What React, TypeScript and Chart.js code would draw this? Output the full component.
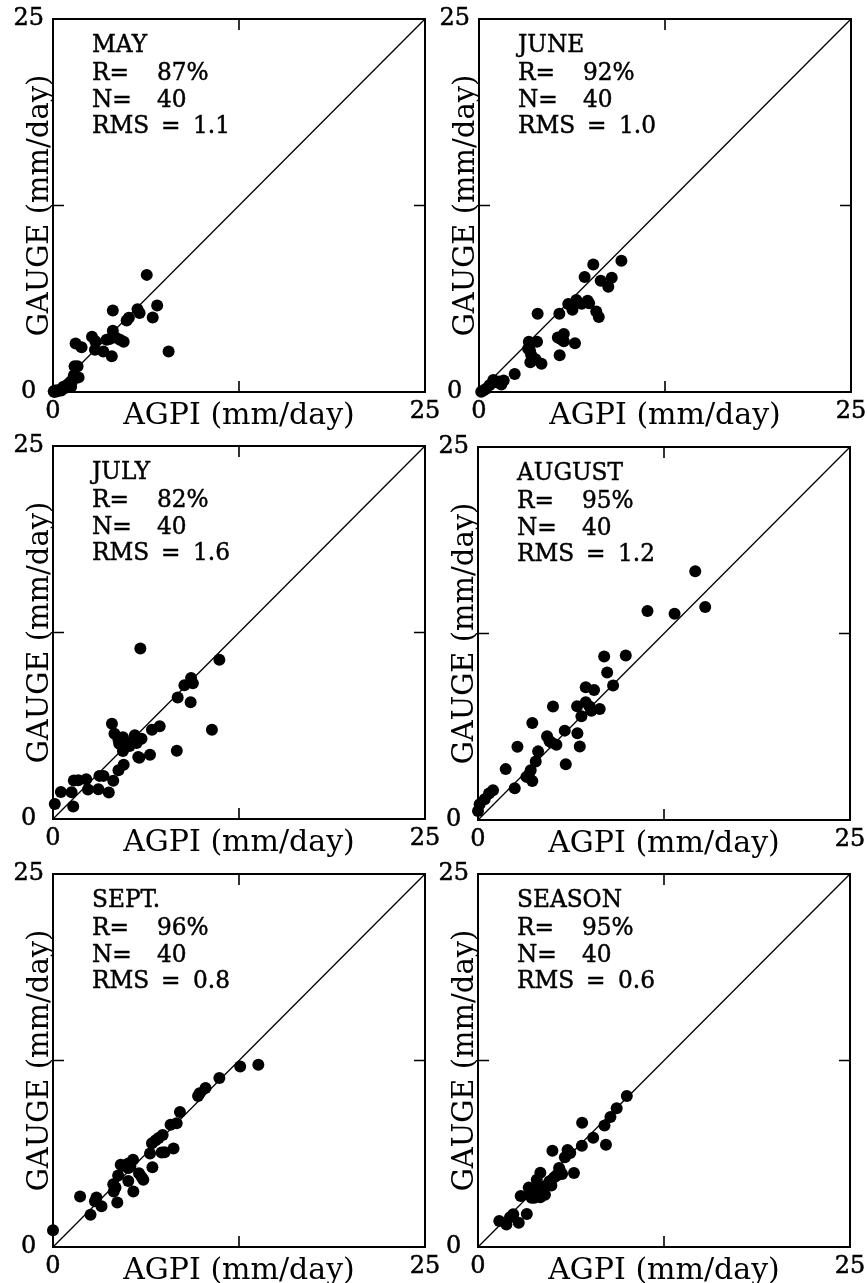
import React, { useEffect, useRef } from 'react';
import { Chart, registerables } from 'chart.js';

Chart.register(...registerables);

// ---------- data ----------
const AXIS_MIN = 0;
const AXIS_MAX = 25;
const AXIS_TICKS = [0, 12.5, 25];
const X_TITLE = 'AGPI (mm/day)';
const Y_TITLE = 'GAUGE (mm/day)';

const PANEL_NAMES = ['MAY', 'JUNE', 'JULY', 'AUGUST', 'SEPT.', 'SEASON'];
const R_VALUES = ['87%', '92%', '82%', '95%', '96%', '95%'];
const N_VALUES = ['40', '40', '40', '40', '40', '40'];
const RMS_VALUES = ['1.1', '1.0', '1.6', '1.2', '0.8', '0.6'];

const MAY_AGPI = [6.3, 7.0, 6.7, 7.77, 4.02, 5.68, 5.82, 4.95, 5.1, 4.02, 3.8, 4.2, 4.75, 2.62, 2.85, 1.52, 1.92, 2.82, 3.38, 3.95, 1.45, 1.65, 1.72, 1.28, 1.22, 0.85, 0.6, 0.4, 0.2, 0.05, 0.15, 0.3, 0.55, 0.95, 1.1, 3.6, 4.5, 0.7, 1.4, 0.1];
const MAY_GAUGE = [7.85, 5.8, 5.0, 2.72, 5.47, 5.55, 5.3, 4.8, 4.97, 4.1, 3.55, 3.66, 3.37, 3.7, 3.4, 3.25, 3.0, 2.83, 2.72, 2.4, 1.72, 1.72, 0.98, 0.7, 0.35, 0.28, 0.2, 0.13, 0.08, 0.05, 0.1, 0.05, 0.1, 0.45, 0.55, 3.5, 3.5, 0.35, 1.1, 0.0];

const JUNE_AGPI = [9.57, 7.68, 7.1, 8.18, 8.92, 8.69, 6.54, 7.3, 6.9, 6.28, 7.88, 8.05, 5.4, 3.94, 3.35, 3.9, 5.3, 5.7, 5.7, 6.45, 5.42, 3.43, 3.45, 3.8, 4.2, 2.4, 1.66, 1.5, 0.96, 1.2, 0.45, 0.15, 0.3, 3.5, 3.3, 6.0, 7.4, 5.5, 1.35, 0.7];
const JUNE_GAUGE = [8.8, 8.55, 7.7, 7.45, 7.65, 7.06, 6.17, 6.12, 5.92, 5.52, 5.4, 5.03, 5.25, 5.25, 3.37, 3.37, 3.65, 3.88, 3.4, 3.27, 2.47, 2.77, 2.0, 2.2, 1.9, 1.2, 0.77, 0.5, 0.8, 0.66, 0.2, 0.02, 0.1, 2.5, 2.9, 5.9, 5.95, 3.55, 0.7, 0.45];

const JULY_AGPI = [5.87, 11.18, 9.28, 9.4, 8.83, 8.38, 9.25, 10.68, 7.17, 6.65, 3.96, 4.13, 4.7, 5.5, 5.95, 5.62, 5.15, 4.45, 4.7, 8.32, 6.52, 5.73, 4.75, 4.4, 3.4, 3.12, 4.05, 2.23, 1.4, 1.7, 2.35, 3.05, 3.75, 0.53, 1.25, 1.36, 0.12, 4.4, 5.3, 5.8];
const JULY_GAUGE = [11.43, 10.68, 9.45, 9.1, 8.96, 8.14, 7.83, 5.98, 6.22, 5.98, 6.38, 5.72, 5.48, 5.62, 5.38, 5.1, 4.9, 5.05, 4.55, 4.57, 4.3, 4.16, 3.63, 3.27, 2.89, 2.89, 2.56, 2.67, 2.58, 2.6, 1.98, 2.0, 1.77, 1.81, 1.8, 0.83, 1.0, 5.3, 5.2, 4.1];

const AUG_AGPI = [14.6, 15.27, 13.21, 11.39, 9.93, 8.48, 8.68, 9.08, 7.24, 7.8, 5.04, 6.66, 7.24, 7.62, 8.18, 6.95, 3.65, 5.83, 6.68, 6.84, 4.64, 4.93, 5.27, 2.65, 4.04, 3.88, 5.9, 3.54, 3.25, 3.65, 1.86, 2.47, 1.01, 0.74, 0.45, 0.11, 0.0, 7.5, 4.8, 3.4];
const AUG_GAUGE = [16.68, 14.28, 13.83, 14.01, 11.03, 10.96, 9.89, 9.01, 8.9, 8.72, 7.6, 7.62, 7.89, 7.33, 7.44, 6.95, 6.5, 5.99, 5.81, 4.93, 5.61, 5.2, 5.04, 4.91, 4.6, 3.92, 3.74, 3.34, 2.89, 2.62, 3.41, 2.13, 1.99, 1.77, 1.39, 1.05, 0.61, 7.6, 5.3, 3.0];

const SEPT_AGPI = [13.8, 12.58, 11.18, 10.25, 9.85, 9.75, 8.53, 8.31, 7.9, 7.37, 6.9, 6.65, 6.52, 8.1, 7.5, 7.3, 6.68, 5.38, 4.55, 5.06, 5.06, 5.95, 5.78, 4.38, 5.06, 4.05, 5.4, 4.08, 4.2, 4.32, 1.82, 2.92, 2.82, 3.26, 2.52, 0.0, 6.07, 4.7, 5.2, 7.1];
const SEPT_GAUGE = [12.22, 12.1, 11.32, 10.65, 10.3, 10.12, 9.05, 8.3, 8.2, 7.5, 7.15, 6.95, 6.27, 6.6, 6.35, 6.33, 5.35, 5.85, 5.52, 5.6, 5.3, 4.7, 4.95, 4.8, 4.42, 4.2, 3.72, 3.72, 3.99, 2.98, 3.38, 3.32, 3.07, 2.73, 2.16, 1.12, 4.5, 5.45, 5.4, 7.3];

const SEASON_AGPI = [10.0, 9.32, 8.9, 8.5, 7.0, 7.74, 8.6, 6.98, 6.02, 5.84, 5.0, 5.45, 6.45, 5.65, 5.27, 4.19, 3.95, 4.93, 4.46, 3.41, 3.63, 2.87, 3.79, 4.19, 2.37, 3.28, 1.43, 1.91, 2.74, 4.5, 3.8, 4.8, 5.5, 4.15, 3.6, 2.15, 6.2, 4.0, 3.5, 5.1];
const SEASON_GAUGE = [10.12, 9.3, 8.72, 8.15, 8.33, 7.32, 6.85, 6.78, 6.5, 6.02, 6.45, 5.3, 4.96, 4.9, 4.78, 4.97, 4.5, 4.12, 4.03, 3.98, 3.65, 3.42, 3.3, 3.33, 2.2, 2.21, 1.75, 1.5, 1.63, 3.5, 3.85, 4.4, 5.15, 3.7, 3.3, 2.0, 6.3, 3.5, 3.6, 4.65];

const PANEL_AGPI = [MAY_AGPI, JUNE_AGPI, JULY_AGPI, AUG_AGPI, SEPT_AGPI, SEASON_AGPI];
const PANEL_GAUGE = [MAY_GAUGE, JUNE_GAUGE, JULY_GAUGE, AUG_GAUGE, SEPT_GAUGE, SEASON_GAUGE];

// ---------- layout ----------
const PANEL_ORIGINS = [
  [53, 19], [479, 19],
  [53, 446], [478, 447],
  [53, 874], [478, 874],
];
const PLOT_W = 372;
const PLOT_H = 373;
const Y_AXIS_W = 53;
const X_AXIS_H = 45;
const PAD_TOP = 26;
const PAD_RIGHT = 24;
const FONT = '"DejaVu Serif", serif';

function drawNarrow(ctx: any, text: string, x: number, y: number) {
  ctx.save();
  ctx.translate(x, y);
  ctx.scale(0.93, 1);
  ctx.strokeText(text, 0, 0);
  ctx.fillText(text, 0, 0);
  ctx.restore();
}

const framePlugin = {
  id: 'frameNotes',
  afterDraw(chart: any, _args: any, opts: any) {
    const { ctx, chartArea: a, scales } = chart;
    ctx.save();
    ctx.strokeStyle = '#000';
    ctx.lineWidth = 2;
    ctx.strokeRect(a.left, a.top, a.right - a.left, a.bottom - a.top);
    const mx = scales.x.getPixelForValue(AXIS_TICKS[1]);
    const my = scales.y.getPixelForValue(AXIS_TICKS[1]);
    const L = 11;
    ctx.lineWidth = 1.6;
    ctx.beginPath();
    ctx.moveTo(mx, a.bottom); ctx.lineTo(mx, a.bottom - L);
    ctx.moveTo(mx, a.top); ctx.lineTo(mx, a.top + L);
    ctx.moveTo(a.left, my); ctx.lineTo(a.left + L, my);
    ctx.moveTo(a.right, my); ctx.lineTo(a.right - L, my);
    ctx.stroke();

    ctx.fillStyle = '#000';
    ctx.strokeStyle = '#000';
    ctx.lineWidth = 0.5;
    ctx.font = `25px ${FONT}`;
    ctx.textBaseline = 'alphabetic';
    ctx.textAlign = 'left';
    const x0 = a.left + 39;
    drawNarrow(ctx, opts.name, x0, a.top + 33);
    drawNarrow(ctx, 'R=', x0, a.top + 61);
    drawNarrow(ctx, opts.r, x0 + 65, a.top + 61);
    drawNarrow(ctx, 'N=', x0, a.top + 88);
    drawNarrow(ctx, opts.n, x0 + 65, a.top + 88);
    drawNarrow(ctx, 'RMS', x0, a.top + 114);
    drawNarrow(ctx, '=', x0 + 69, a.top + 114);
    drawNarrow(ctx, opts.rms, x0 + 101, a.top + 114);
    ctx.restore();
  },
};

function axisTicks(scale: any) {
  scale.ticks = AXIS_TICKS.map((v) => ({ value: v }));
}

function Panel({ index }: { index: number }) {
  const ref = useRef<HTMLCanvasElement | null>(null);
  const [L, T] = PANEL_ORIGINS[index];
  const width = Y_AXIS_W + PLOT_W + PAD_RIGHT;
  const height = PAD_TOP + PLOT_H + X_AXIS_H;

  useEffect(() => {
    if (!ref.current) return;
    const xs = PANEL_AGPI[index];
    const ys = PANEL_GAUGE[index];
    const points = xs.map((x, i) => ({ x, y: ys[i] }));
    const tickLabel = (v: any) => (Number(v) === AXIS_TICKS[1] ? '' : String(v));
    const chart = new Chart(ref.current, {
      type: 'scatter',
      data: {
        datasets: [
          {
            data: points,
            backgroundColor: '#000',
            borderWidth: 0,
            pointRadius: 6,
            clip: false,
          } as any,
          {
            data: [{ x: AXIS_MIN, y: AXIS_MIN }, { x: AXIS_MAX, y: AXIS_MAX }],
            showLine: true,
            borderColor: '#000',
            borderWidth: 1.3,
            pointRadius: 0,
            clip: false,
          } as any,
        ],
      },
      options: {
        animation: false,
        responsive: false,
        devicePixelRatio: 1,
        layout: { padding: { top: PAD_TOP, right: PAD_RIGHT, left: 0, bottom: 0 } },
        plugins: {
          legend: { display: false },
          tooltip: { enabled: false },
          frameNotes: {
            name: PANEL_NAMES[index],
            r: R_VALUES[index],
            n: N_VALUES[index],
            rms: RMS_VALUES[index],
          },
        } as any,
        scales: {
          x: {
            type: 'linear',
            position: 'bottom',
            min: AXIS_MIN,
            max: AXIS_MAX,
            afterBuildTicks: axisTicks,
            afterFit: (s: any) => { s.height = X_AXIS_H; },
            grid: { display: false, drawTicks: false },
            border: { display: false },
            ticks: {
              autoSkip: false,
              maxRotation: 0,
              padding: 5,
              color: '#000',
              textStrokeColor: '#000',
              textStrokeWidth: 0.5,
              font: { family: FONT, size: 24 },
              callback: tickLabel,
            },
            title: {
              display: true,
              text: X_TITLE,
              color: '#000',
              font: { family: FONT, size: 30 },
              padding: { top: 0, bottom: 3 },
            },
          },
          y: {
            type: 'linear',
            position: 'left',
            min: AXIS_MIN,
            max: AXIS_MAX,
            afterBuildTicks: axisTicks,
            afterFit: (s: any) => { s.width = Y_AXIS_W; },
            grid: { display: false, drawTicks: false },
            border: { display: false },
            ticks: {
              autoSkip: false,
              crossAlign: 'center',
              padding: 9,
              color: '#000',
              textStrokeColor: '#000',
              textStrokeWidth: 0.5,
              font: { family: FONT, size: 24 },
              callback: tickLabel,
            },
            title: {
              display: true,
              text: Y_TITLE,
              color: '#000',
              font: { family: FONT, size: 29 },
              padding: { top: 23, bottom: 0 },
            },
          },
        },
      } as any,
      plugins: [framePlugin],
    });
    return () => chart.destroy();
  }, [index]);

  return (
    <canvas
      ref={ref}
      width={width}
      height={height}
      style={{
        position: 'absolute',
        left: L - Y_AXIS_W,
        top: T - PAD_TOP,
        width,
        height,
      }}
    />
  );
}

export default function App() {
  return (
    <div
      style={{
        position: 'absolute',
        left: 0,
        top: 0,
        width: 867,
        height: 1283,
        overflow: 'hidden',
        background: '#fff',
      }}
    >
      {PANEL_NAMES.map((_, i) => (
        <Panel key={i} index={i} />
      ))}
    </div>
  );
}
